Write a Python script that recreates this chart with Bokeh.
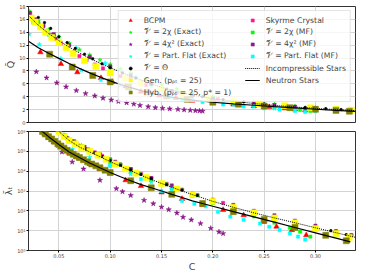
from bokeh.plotting import figure
from bokeh.layouts import column
from bokeh.models import Range1d, FixedTicker, Legend, LegendItem
from bokeh.embed import file_html
from bokeh.resources import INLINE

# ---------------- data ----------------
C_TICKS = [0.05, 0.10, 0.15, 0.20, 0.25, 0.30]
C_TICK_LABELS = ["0.05", "0.10", "0.15", "0.20", "0.25", "0.30"]
Q_TICKS = [0, 2, 4, 6, 8, 10, 12, 14, 16, 18]
LAM_TICKS = [1, 10, 100, 1000, 10000, 100000, 1000000]
LAM_TICK_LABELS = ["10⁰", "10¹", "10²", "10³", "10⁴", "10⁵", "10⁶"]

# Neutron stars (solid line)
ns_c_top = [0.0204, 0.03, 0.04, 0.05, 0.06, 0.07, 0.08, 0.09, 0.10, 0.11, 0.12, 0.13, 0.14, 0.15, 0.16, 0.17, 0.18, 0.19, 0.20, 0.22, 0.24, 0.26, 0.28, 0.30, 0.32, 0.339]
ns_q = [12.6, 11.6, 10.75, 9.95, 9.15, 8.4, 7.7, 7.05, 6.45, 5.9, 5.4, 4.95, 4.55, 4.2, 3.92, 3.68, 3.47, 3.3, 3.14, 2.9, 2.68, 2.46, 2.26, 2.06, 1.88, 1.72]
ns_c_bot = [0.03, 0.034, 0.04, 0.05, 0.06, 0.07, 0.08, 0.09, 0.10, 0.11, 0.12, 0.13, 0.14, 0.15, 0.16, 0.17, 0.18, 0.19, 0.20, 0.22, 0.24, 0.26, 0.28, 0.30, 0.32, 0.334]
ns_lam = [1.6e6, 1.0e6, 5.5e5, 2.2e5, 9.3e4, 4.9e4, 2.6e4, 1.48e4, 8.5e3, 5.2e3, 3.3e3, 2.1e3, 1.45e3, 1.0e3, 680, 470, 320, 234, 170, 91, 50, 27, 14.5, 7.8, 4.2, 2.7]

# Incompressible stars (dotted line)
inc_c_top = [0.0204, 0.03, 0.04, 0.05, 0.06, 0.07, 0.08, 0.09, 0.10, 0.11, 0.12, 0.13, 0.14, 0.15, 0.16, 0.17, 0.18, 0.20, 0.22, 0.24, 0.26, 0.28, 0.30, 0.32, 0.339]
inc_q = [16.6, 15.1, 13.8, 12.7, 11.7, 10.8, 9.95, 9.2, 8.5, 7.85, 7.2, 6.6, 6.0, 5.45, 5.0, 4.6, 4.25, 3.7, 3.3, 2.95, 2.65, 2.4, 2.2, 2.0, 1.85]
inc_c_bot = [0.047, 0.05, 0.06, 0.07, 0.08, 0.09, 0.10, 0.11, 0.12, 0.13, 0.14, 0.15, 0.16, 0.17, 0.18, 0.20, 0.22, 0.24, 0.26, 0.28, 0.30, 0.32, 0.339]
inc_lam = [1.4e6, 1.0e6, 3.5e5, 1.66e5, 9.3e4, 5.4e4, 3.0e4, 1.78e4, 1.05e4, 6.2e3, 3.8e3, 2.4e3, 1.55e3, 1.0e3, 660, 300, 151, 79, 44, 25, 14, 7.9, 4.6]

# BCPM
bcpm_c_top = [0.032, 0.052, 0.068, 0.091, 0.102, 0.115, 0.13, 0.148, 0.164, 0.18, 0.2, 0.22, 0.24, 0.255, 0.27, 0.28, 0.29]
bcpm_q = [10.9, 9.1, 7.8, 6.9, 6.3, 5.6, 4.8, 4.2, 3.8, 3.4, 3.05, 2.8, 2.55, 2.4, 2.2, 2.05, 1.9]
bcpm_c_bot = [0.036, 0.04, 0.045, 0.05, 0.055, 0.06, 0.07, 0.08, 0.09, 0.10, 0.115, 0.13, 0.15, 0.17, 0.19, 0.21, 0.23, 0.25, 0.262, 0.277, 0.291]
bcpm_lam = [7.1e5, 4.8e5, 2.95e5, 1.9e5, 1.26e5, 8.5e4, 4.4e4, 2.3e4, 1.3e4, 7.6e3, 3.5e3, 1.8e3, 850, 400, 200, 112, 60, 28, 16, 10.7, 5.9]

# Skyrme Crystal
sky_c_top = [0.021, 0.024, 0.027, 0.03, 0.034, 0.038, 0.042, 0.047, 0.052, 0.058, 0.064, 0.07, 0.077, 0.085, 0.093, 0.1, 0.11, 0.12, 0.135, 0.15, 0.165, 0.18, 0.195, 0.205]
sky_q = [16.9, 16.4, 15.9, 15.4, 14.8, 14.2, 13.6, 13.0, 12.3, 11.6, 10.9, 10.3, 9.7, 9.0, 8.4, 7.9, 7.2, 6.6, 5.8, 5.2, 4.6, 4.2, 3.85, 3.65]
sky_c_bot = [0.05, 0.054, 0.058, 0.062, 0.067, 0.072, 0.078, 0.085, 0.092, 0.1, 0.11, 0.12, 0.13, 0.14, 0.155, 0.17, 0.185, 0.2, 0.21]
sky_lam = [1.0e6, 6.3e5, 4.5e5, 3.3e5, 2.4e5, 1.78e5, 1.26e5, 8.9e4, 6.0e4, 4.0e4, 2.2e4, 1.26e4, 7.4e3, 4.5e3, 2.3e3, 1.17e3, 630, 355, 250]

# V = 2chi (Exact)
g2e_c_top = [0.021, 0.03, 0.04, 0.05, 0.06, 0.07, 0.08, 0.09, 0.1, 0.11, 0.12, 0.135, 0.15, 0.165, 0.18, 0.2, 0.22, 0.24, 0.26, 0.28, 0.3, 0.32, 0.335]
g2e_q = [17.3, 15.8, 14.4, 13.3, 12.3, 11.3, 10.5, 9.7, 9.0, 8.3, 7.6, 6.7, 5.9, 5.2, 4.6, 4.0, 3.5, 3.15, 2.85, 2.55, 2.3, 2.1, 1.95]
g2e_c_bot = [0.055, 0.06, 0.066, 0.072, 0.08, 0.09, 0.1, 0.11, 0.12, 0.13, 0.14, 0.155, 0.17, 0.185, 0.2, 0.22, 0.24, 0.26, 0.28, 0.3, 0.32, 0.335]
g2e_lam = [6.8e5, 4.3e5, 2.9e5, 2.0e5, 1.2e5, 7.1e4, 3.6e4, 2.1e4, 1.2e4, 7.1e3, 4.3e3, 2.1e3, 1.12e3, 600, 330, 170, 89, 50, 29, 15.8, 8.9, 5.6]

# V = 2chi (MF)
g2m_c_top = [0.03, 0.045, 0.06, 0.08, 0.1, 0.12, 0.14, 0.16, 0.18, 0.2, 0.22, 0.24, 0.26, 0.275, 0.285, 0.295]
g2m_q = [15.4, 13.5, 12.0, 10.1, 8.6, 7.2, 5.9, 4.8, 4.1, 3.5, 3.05, 2.7, 2.35, 2.1, 1.95, 1.8]
g2m_c_bot = [0.06, 0.08, 0.1, 0.12, 0.14, 0.16, 0.18, 0.2, 0.22, 0.24, 0.26, 0.275, 0.285, 0.295]
g2m_lam = [3.2e5, 8.9e4, 2.8e4, 9.5e3, 3.4e3, 1.32e3, 560, 250, 112, 52, 25, 14, 8.9, 5.0]

# V = 4chi^2 (Exact)
p4e_c_top = [0.028, 0.038, 0.048, 0.057, 0.067, 0.076, 0.085, 0.093, 0.101, 0.108, 0.116, 0.123, 0.129, 0.137, 0.144, 0.151, 0.158, 0.166, 0.172, 0.178, 0.183, 0.187, 0.19]
p4e_q = [7.87, 6.93, 6.15, 5.53, 4.96, 4.5, 4.13, 3.78, 3.5, 3.28, 3.06, 2.86, 2.65, 2.45, 2.3, 2.2, 2.12, 2.05, 1.97, 1.9, 1.84, 1.8, 1.77]
p4e_c_bot = [0.053, 0.063, 0.074, 0.09, 0.106, 0.112, 0.12, 0.133, 0.142, 0.15, 0.157, 0.165, 0.171, 0.179, 0.188, 0.198, 0.206, 0.21]
p4e_lam = [9.3e4, 2.9e4, 1.29e4, 3.5e3, 1.32e3, 930, 600, 340, 230, 155, 115, 78, 48, 35, 23, 13.2, 8.7, 7.2]

# V = 4chi^2 (MF)
p4m_c_top = [0.022, 0.028, 0.035, 0.045, 0.06, 0.08, 0.1, 0.12, 0.14, 0.16, 0.18, 0.2, 0.22, 0.24, 0.26, 0.28, 0.3, 0.32, 0.335]
p4m_q = [17.0, 16.0, 15.0, 13.7, 12.0, 10.2, 8.7, 7.3, 6.0, 4.9, 4.2, 3.7, 3.3, 3.0, 2.7, 2.45, 2.2, 2.0, 1.85]
p4m_c_bot = [0.056, 0.065, 0.075, 0.09, 0.105, 0.12, 0.14, 0.16, 0.18, 0.2, 0.22, 0.24, 0.26, 0.28, 0.3, 0.32, 0.335]
p4m_lam = [6.6e5, 3.2e5, 1.66e5, 7.1e4, 3.0e4, 1.26e4, 4.5e3, 1.9e3, 790, 360, 200, 100, 60, 32, 17.8, 9.5, 6.0]

# V = Part. Flat (Exact)
cfe_c_top = [0.021, 0.031, 0.038, 0.051, 0.052, 0.067, 0.072, 0.091, 0.095, 0.11, 0.125, 0.14, 0.16, 0.18, 0.2, 0.22, 0.24, 0.26, 0.28, 0.3]
cfe_q = [13.7, 12.1, 14.1, 12.4, 9.9, 11.5, 8.1, 6.6, 9.2, 5.8, 7.0, 4.6, 4.0, 3.5, 3.1, 2.8, 2.5, 2.2, 1.95, 1.75]
cfe_c_bot = [0.05, 0.063, 0.08, 0.1, 0.12, 0.14, 0.16, 0.18, 0.2, 0.22, 0.24, 0.26, 0.28, 0.3, 0.32]
cfe_lam = [1.5e5, 1.26e5, 5.0e4, 1.78e4, 7.1e3, 2.8e3, 1.26e3, 560, 280, 140, 71, 35, 20, 11.2, 6.3]

# V = Part. Flat (MF)
cfm_c_top = [0.025, 0.04, 0.17, 0.19, 0.21, 0.23, 0.25, 0.265, 0.28, 0.29]
cfm_q = [15.5, 13.6, 3.6, 3.2, 2.8, 2.5, 2.2, 2.0, 1.8, 1.65]
cfm_c_bot = [0.1, 0.13, 0.15, 0.17, 0.182, 0.193, 0.205, 0.217, 0.23, 0.246, 0.255, 0.265, 0.275, 0.283, 0.29]
cfm_lam = [2.0e4, 4.0e3, 1.0e3, 316, 224, 170, 89, 51, 35, 23, 15.8, 10.7, 7.1, 5.0, 3.5]

# V = Theta
th_c_top = [0.03, 0.036, 0.042, 0.05, 0.058, 0.066, 0.075, 0.083, 0.092, 0.1, 0.112, 0.125, 0.14, 0.155, 0.17, 0.19, 0.21, 0.23, 0.25, 0.27, 0.29, 0.31, 0.325, 0.335]
th_q = [16.3, 15.5, 14.6, 13.3, 12.4, 11.5, 10.6, 9.9, 9.1, 8.5, 7.7, 6.9, 6.0, 5.2, 4.6, 4.0, 3.55, 3.2, 2.9, 2.6, 2.35, 2.15, 2.0, 1.9]
th_c_bot = [0.052, 0.058, 0.064, 0.07, 0.077, 0.085, 0.093, 0.1, 0.11, 0.12, 0.13, 0.14, 0.155, 0.17, 0.185, 0.2, 0.22, 0.24, 0.26, 0.28, 0.3, 0.315, 0.33]
th_lam = [1.0e6, 5.0e5, 3.2e5, 2.0e5, 1.26e5, 8.3e4, 5.4e4, 3.5e4, 2.0e4, 1.17e4, 6.9e3, 4.3e3, 2.1e3, 1.12e3, 600, 340, 170, 89, 49, 28, 15.8, 10, 6.3]

# Gen. (p_PT = 25)
gen_c_top = [0.023, 0.027, 0.032, 0.037, 0.043, 0.05, 0.057, 0.064, 0.075, 0.086, 0.1, 0.115, 0.13, 0.15, 0.17, 0.195, 0.22, 0.245, 0.27, 0.295, 0.32, 0.335]
gen_q = [16.2, 15.6, 14.8, 14.0, 13.2, 12.4, 11.6, 10.7, 9.6, 8.7, 7.7, 6.9, 6.1, 5.2, 4.5, 3.85, 3.35, 2.95, 2.6, 2.3, 2.05, 1.9]
gen_c_bot = [0.05, 0.055, 0.06, 0.066, 0.072, 0.08, 0.088, 0.096, 0.105, 0.115, 0.125, 0.135, 0.15, 0.165, 0.18, 0.2, 0.22, 0.24, 0.26, 0.28, 0.3, 0.32, 0.333]
gen_lam = [1.0e6, 5.6e5, 3.5e5, 2.4e5, 1.58e5, 1.0e5, 6.3e4, 4.0e4, 2.3e4, 1.3e4, 7.9e3, 4.8e3, 2.4e3, 1.26e3, 660, 300, 151, 79, 44, 25, 13, 7.1, 4.5]

# Hyb. (p_PT = 25, p_* = 1)
hyb_c_top = [0.041, 0.063, 0.083, 0.100, 0.118, 0.136, 0.155, 0.175, 0.2, 0.225, 0.25, 0.275, 0.3, 0.32, 0.333]
hyb_q = [10.6, 8.6, 7.3, 6.3, 5.5, 4.7, 4.1, 3.6, 3.15, 2.85, 2.55, 2.3, 2.05, 1.88, 1.75]
hyb_c_bot = [0.034, 0.037, 0.040, 0.043, 0.046, 0.049, 0.052, 0.055, 0.058, 0.061, 0.064, 0.067, 0.07, 0.074, 0.078, 0.082, 0.086, 0.09, 0.095, 0.1, 0.12, 0.14, 0.16, 0.19, 0.22, 0.25, 0.28, 0.31, 0.33]
hyb_lam = [1.0e6, 7.4e5, 5.5e5, 4.2e5, 3.2e5, 2.4e5, 1.86e5, 1.45e5, 1.12e5, 8.7e4, 7.1e4, 5.9e4, 4.9e4, 3.8e4, 2.95e4, 2.3e4, 1.86e4, 1.48e4, 1.12e4, 8.5e3, 3.3e3, 1.45e3, 680, 234, 91, 37, 14.5, 5.8, 3.1]

# ---------------- styling ----------------
FONT = "DejaVu Sans"
RED, GREEN, PURPLE, CYAN = "#ff0000", "#00ff00", "#8b1a8b", "#00ffff"
MAGENTA, YELLOW, OLIVE = "#ff1493", "#ffff00", "#808000"

xr = Range1d(0.0204, 0.339)


def style(p):
    p.outline_line_color = "#333333"
    p.outline_line_width = 1
    p.xgrid.grid_line_color = "#d3d3d3"
    p.ygrid.grid_line_color = "#d3d3d3"
    p.xgrid.grid_line_width = 1
    p.ygrid.grid_line_width = 1
    for ax in p.axis:
        ax.major_label_text_font = FONT
        ax.major_label_text_font_size = "5px"
        ax.axis_label_text_font = FONT
        ax.axis_label_text_font_style = "normal"
        ax.axis_label_text_font_size = "9.5px"
        ax.major_tick_in = 0
        ax.major_tick_out = 2
        ax.minor_tick_in = 0
        ax.minor_tick_out = 1
        ax.major_label_standoff = 1
        ax.axis_label_standoff = 0
        ax.axis_line_color = "#333333"


top = figure(width=358, height=126, x_range=xr, y_range=Range1d(0, 18),
             output_backend="svg", toolbar_location=None,
             min_border_left=21, min_border_right=3, min_border_top=6, min_border_bottom=4)
top.xaxis.visible = False
top.xaxis.ticker = FixedTicker(ticks=C_TICKS)
top.yaxis.ticker = FixedTicker(ticks=Q_TICKS)
top.yaxis.axis_label = "Q̄"
style(top)

bot = figure(width=358, height=148, x_range=xr, y_range=Range1d(1, 1e6), y_axis_type="log",
             output_backend="svg", toolbar_location=None,
             min_border_left=21, min_border_right=3, min_border_top=5, min_border_bottom=3)
bot.xaxis.ticker = FixedTicker(ticks=C_TICKS)
bot.xaxis.major_label_overrides = {t: l for t, l in zip(C_TICKS, C_TICK_LABELS)}
bot.yaxis.ticker = FixedTicker(ticks=LAM_TICKS)
bot.yaxis.major_label_overrides = {t: l for t, l in zip(LAM_TICKS, LAM_TICK_LABELS)}
bot.xaxis.axis_label = "C"
bot.yaxis.axis_label = "λ̄ₜ"
style(bot)

# series specs: (key, top x, top y, bottom x, bottom y, marker, size, color)
series = [
    ("bcpm", bcpm_c_top, bcpm_q, bcpm_c_bot, bcpm_lam, "triangle", 5.5, RED),
    ("sky", sky_c_top, sky_q, sky_c_bot, sky_lam, "square", 3.2, MAGENTA),
    ("g2e", g2e_c_top, g2e_q, g2e_c_bot, g2e_lam, "star", 4.5, GREEN),
    ("g2m", g2m_c_top, g2m_q, g2m_c_bot, g2m_lam, "square", 3.2, GREEN),
    ("p4e", p4e_c_top, p4e_q, p4e_c_bot, p4e_lam, "star", 5.5, PURPLE),
    ("p4m", p4m_c_top, p4m_q, p4m_c_bot, p4m_lam, "square", 3.2, PURPLE),
    ("cfe", cfe_c_top, cfe_q, cfe_c_bot, cfe_lam, "star", 5.0, CYAN),
    ("cfm", cfm_c_top, cfm_q, cfm_c_bot, cfm_lam, "square", 3.2, CYAN),
    ("th", th_c_top, th_q, th_c_bot, th_lam, "circle", 2.6, "#000000"),
    ("gen", gen_c_top, gen_q, gen_c_bot, gen_lam, "square", 6.0, YELLOW),
    ("hyb", hyb_c_top, hyb_q, hyb_c_bot, hyb_lam, "square", 6.0, OLIVE),
]

rend = {}
for key, xt, yt, xb, yb, mk, sz, col in series:
    rend[key] = top.scatter(xt, yt, marker=mk, size=sz, fill_color=col, line_color=col, line_width=0.5)
    bot.scatter(xb, yb, marker=mk, size=sz, fill_color=col, line_color=col, line_width=0.5)

rend["inc"] = top.line(inc_c_top, inc_q, line_color="#000000", line_width=1, line_dash="1 1")
bot.line(inc_c_bot, inc_lam, line_color="#000000", line_width=1, line_dash="1 1")
rend["ns"] = top.line(ns_c_top, ns_q, line_color="#000000", line_width=1.2)
bot.line(ns_c_bot, ns_lam, line_color="#000000", line_width=1.2)

labels = [
    ("bcpm", "BCPM"),
    ("g2e", "𝒱 = 2χ (Exact)"),
    ("p4e", "𝒱 = 4χ² (Exact)"),
    ("cfe", "𝒱 = Part. Flat (Exact)"),
    ("th", "𝒱 = Θ"),
    ("gen", "Gen. (pₚₜ = 25)"),
    ("hyb", "Hyb. (pₚₜ = 25, p* = 1)\u2002\u2002\u2002"),
    ("sky", "Skyrme Crystal"),
    ("g2m", "𝒱 = 2χ (MF)"),
    ("p4m", "𝒱 = 4χ² (MF)"),
    ("cfm", "𝒱 = Part. Flat (MF)"),
    ("inc", "Incompressible Stars"),
    ("ns", "Neutron Stars"),
]
legend = Legend(items=[LegendItem(label=t, renderers=[rend[k]]) for k, t in labels],
                ncols=2, location="top_right", margin=4, padding=4, spacing=2,
                glyph_width=15, glyph_height=8, label_standoff=6, label_height=10,
                label_text_font=FONT, label_text_font_size="7.7px",
                background_fill_alpha=0.8, border_line_color="#cccccc")
top.add_layout(legend, "center")

layout = column(top, bot, spacing=0)
open("out.html", "w").write(file_html(layout, INLINE))
